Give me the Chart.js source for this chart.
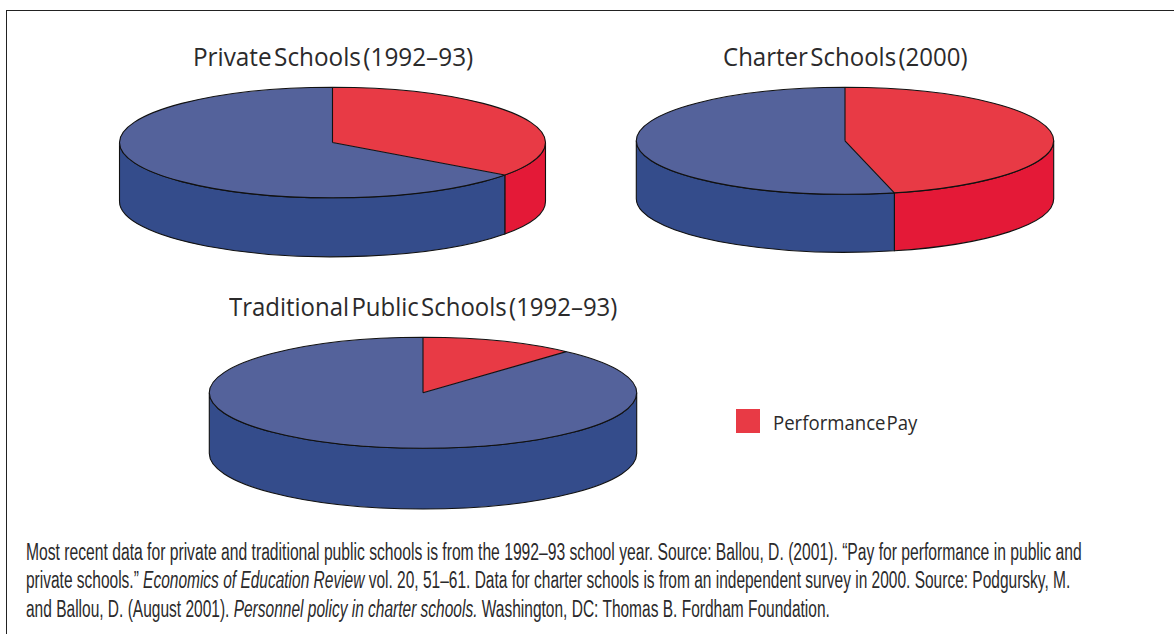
<!DOCTYPE html>
<html>
<head>
<meta charset="utf-8">
<script src="https://cdn.jsdelivr.net/npm/chart.js@4"></script>
<style>
  html, body { margin: 0; padding: 0; background: #fff; }
  body { width: 1174px; height: 634px; position: relative; overflow: hidden; color: #2b2a2b; }
  #frame { position: absolute; left: 6px; top: 10px; right: -5px; bottom: -5px; border: 1px solid #222; }
  canvas { position: absolute; }
  .txt { position: absolute; white-space: nowrap; transform-origin: 0 50%; line-height: 1; }
  .title { font-family: "Open Sans", sans-serif; font-size: 25px; word-spacing: -0.16em; }
  .legend { font-family: "Open Sans", sans-serif; font-size: 20px; word-spacing: -0.2em; }
  .note { font-family: "Liberation Sans Narrow", "Liberation Sans", sans-serif; font-size: 23px; }
  #swatch { position: absolute; left: 736px; top: 409px; width: 24px; height: 24px; }
</style>
</head>
<body>
<div id="frame"></div>
<div id="swatch"></div>
<script>
const sliceLabels = ["Performance Pay", "No Performance Pay"];
const privateValues = [35, 65];
const charterValues = [46.2, 53.8];
const publicValues = [11.7, 88.3];
const titles = ["Private Schools (1992–93)", "Charter Schools (2000)", "Traditional Public Schools (1992–93)"];

const topColors = ["#e83a45", "#54629b"];
const sideColors = ["#e41937", "#344c8b"];
const outline = "#111";

// squash the pie into an ellipse and give it a wall
const pie3d = {
  id: "pie3d",
  beforeDatasetsDraw(chart, args, opts) {
    const ctx = chart.ctx;
    const arcs = chart.getDatasetMeta(0).data;
    ctx.save();
    ctx.lineWidth = 1.1;
    ctx.strokeStyle = outline;
    arcs.forEach(function(arc, i) {
      // only the front half of the wall can be seen
      const from = Math.max(arc.startAngle, 0);
      const to = Math.min(arc.endAngle, Math.PI);
      if (to <= from) return;
      ctx.beginPath();
      ctx.ellipse(opts.cx, opts.cy + opts.depth, opts.rx, opts.ry, 0, from, to);
      ctx.ellipse(opts.cx, opts.cy, opts.rx, opts.ry, 0, to, from, true);
      ctx.closePath();
      ctx.fillStyle = sideColors[i];
      ctx.fill();
      ctx.stroke();
    });
    ctx.restore();

    const first = arcs[0];
    ctx.save();
    ctx.translate(opts.cx, opts.cy);
    ctx.scale(opts.rx / first.outerRadius, opts.ry / first.outerRadius);
    ctx.translate(-first.x, -first.y);
  },
  afterDatasetsDraw(chart, args, opts) {
    const ctx = chart.ctx;
    ctx.restore();
    ctx.save();
    ctx.lineWidth = 1.1;
    ctx.strokeStyle = outline;
    ctx.beginPath();
    ctx.ellipse(opts.cx, opts.cy, opts.rx, opts.ry, 0, 0, Math.PI * 2);
    chart.getDatasetMeta(0).data.forEach(function(arc) {
      ctx.moveTo(opts.cx, opts.cy);
      ctx.lineTo(opts.cx + opts.rx * Math.cos(arc.startAngle), opts.cy + opts.ry * Math.sin(arc.startAngle));
    });
    ctx.stroke();
    ctx.restore();
  }
};

function drawPie(values, cx, cy, rx, ry, depth) {
  const pad = 6;
  const canvas = document.createElement("canvas");
  canvas.width = Math.ceil(rx * 2 + pad * 2);
  canvas.height = Math.ceil(ry * 2 + depth + pad * 2);
  const left = Math.round(cx - canvas.width / 2);
  const top = Math.round(cy - ry - pad);
  canvas.style.left = left + "px";
  canvas.style.top = top + "px";
  document.body.appendChild(canvas);
  return new Chart(canvas.getContext("2d"), {
    type: "pie",
    data: {
      labels: sliceLabels,
      datasets: [{ data: values, backgroundColor: topColors, borderWidth: 0, clip: false }]
    },
    options: {
      responsive: false,
      animation: false,
      events: [],
      plugins: {
        legend: { display: false },
        tooltip: { enabled: false },
        pie3d: { cx: cx - left, cy: cy - top, rx: rx, ry: ry, depth: depth }
      }
    },
    plugins: [pie3d]
  });
}

drawPie(privateValues, 332.5, 142.5, 213, 55.3, 59);
drawPie(charterValues, 845, 140.8, 208.7, 53.5, 58);
drawPie(publicValues, 423, 392.8, 213.7, 55.5, 60.7);

document.getElementById("swatch").style.background = topColors[0];

// place a line of text so it spans x0..x1
function putText(html, cls, x0, x1, yMid) {
  const el = document.createElement("div");
  el.className = "txt " + cls;
  el.innerHTML = html;
  document.body.appendChild(el);
  el.style.left = x0 + "px";
  el.style.top = (yMid - el.offsetHeight / 2) + "px";
  el.style.transform = "scaleX(" + (x1 - x0) / el.offsetWidth + ")";
}

putText(titles[0], "title", 193, 473, 56);
putText(titles[1], "title", 723, 968, 56);
putText(titles[2], "title", 229, 617, 306);
putText(sliceLabels[0], "legend", 773, 917, 423);

putText("Most recent data for private and traditional public schools is from the 1992–93 school year. Source: Ballou, D. (2001). “Pay for performance in public and", "note", 26, 1082, 552);
putText("private schools.” <i>Economics of Education Review</i> vol. 20, 51–61. Data for charter schools is from an independent survey in 2000. Source: Podgursky, M.", "note", 26, 1070, 580);
putText("and Ballou, D. (August 2001). <i>Personnel policy in charter schools.</i> Washington, DC: Thomas B. Fordham Foundation.", "note", 26, 830, 609);
</script>
</body>
</html>
